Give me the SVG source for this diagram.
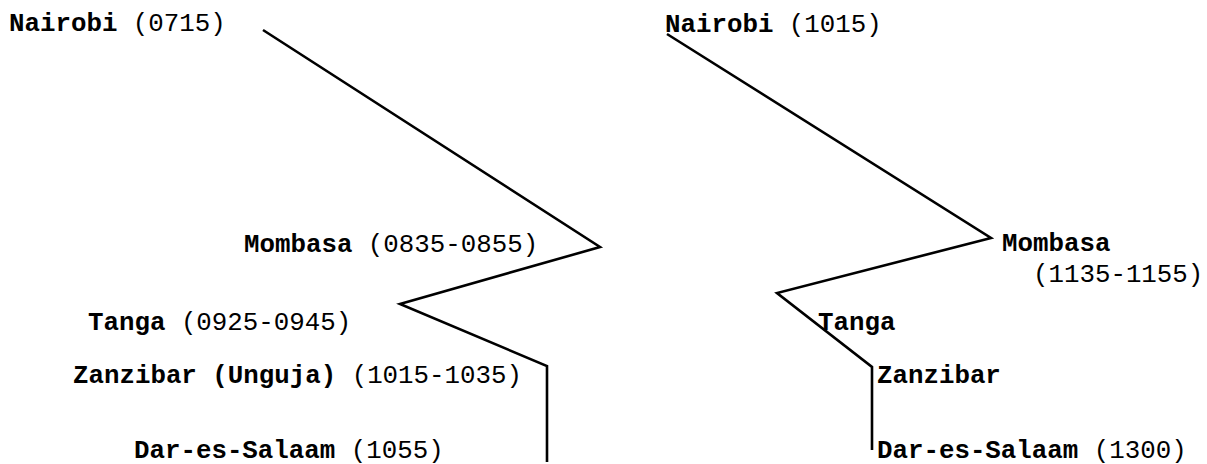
<svg xmlns="http://www.w3.org/2000/svg" width="1207" height="464" viewBox="0 0 1207 464">
<style>
.n{font-family:"Liberation Mono","Courier New",monospace;font-size:25.8px;font-weight:bold;fill:#000}
.t{font-family:"Liberation Mono","Courier New",monospace;font-size:25.8px;font-weight:normal;fill:#000}
.c{fill:none;stroke:#000;stroke-width:2.6;stroke-linejoin:miter}
</style>
<rect width="1207" height="464" fill="#fff"/>
<g id="connectors">
<polyline class="c" points="263,30 600,247 400,304 547,366 547,462"/>
<polyline class="c" points="667,34 991,238 777,293 872,367 872,450"/>
</g>
<g id="left-nairobi"><text x="9" y="31"><tspan class="n">Nairobi</tspan><tspan class="t"> (0715)</tspan></text></g>
<g id="left-mombasa"><text x="244" y="252"><tspan class="n">Mombasa</tspan><tspan class="t"> (0835-0855)</tspan></text></g>
<g id="left-tanga"><text x="88" y="330"><tspan class="n">Tanga</tspan><tspan class="t"> (0925-0945)</tspan></text></g>
<g id="left-zanzibar"><text x="73" y="383"><tspan class="n">Zanzibar (Unguja)</tspan><tspan class="t"> (1015-1035)</tspan></text></g>
<g id="left-dar"><text x="134" y="458"><tspan class="n">Dar-es-Salaam</tspan><tspan class="t"> (1055)</tspan></text></g>
<g id="right-nairobi"><text x="665" y="32"><tspan class="n">Nairobi</tspan><tspan class="t"> (1015)</tspan></text></g>
<g id="right-mombasa"><text x="1002" y="251" class="n">Mombasa</text><text x="1033" y="282" class="t">(1135-1155)</text></g>
<g id="right-tanga"><text x="818" y="330" class="n">Tanga</text></g>
<g id="right-zanzibar"><text x="877" y="383" class="n">Zanzibar</text></g>
<g id="right-dar"><text x="877" y="458"><tspan class="n">Dar-es-Salaam</tspan><tspan class="t"> (1300)</tspan></text></g>
</svg>
